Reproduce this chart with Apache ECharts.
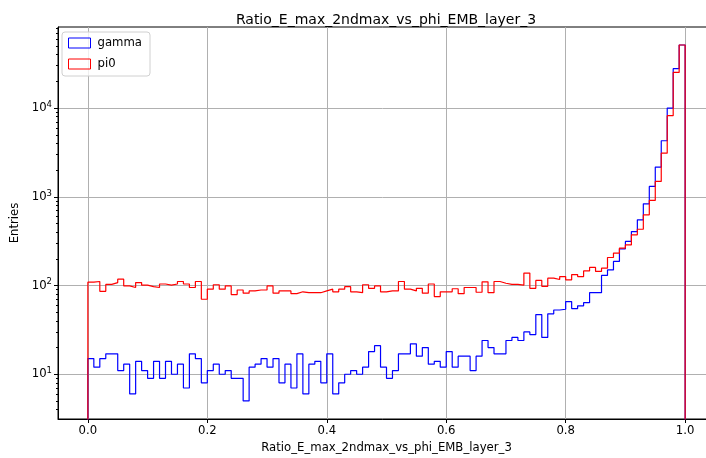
<!DOCTYPE html>
<html>
<head>
<meta charset="utf-8">
<script src="https://cdn.jsdelivr.net/npm/echarts@6/dist/echarts.min.js"></script>
<style>
html,body{margin:0;padding:0;background:#fff;}
#chart{width:706px;height:458px;}
</style>
</head>
<body>
<div id="chart"></div>
<script>
// ---- data ----
var titleText = 'Ratio_E_max_2ndmax_vs_phi_EMB_layer_3';
var xLabel = 'Ratio_E_max_2ndmax_vs_phi_EMB_layer_3';
var yLabel = 'Entries';
var seriesNames = ['gamma', 'pi0'];
var binLow = 0.0;
var binWidth = 0.01;
var gammaCounts = [
  15, 12, 15, 17, 17, 11, 13, 6, 14, 11,
  9, 14, 9, 14, 10, 13, 7, 17, 15, 8,
  11, 13, 10, 11, 9, 9, 5, 12, 13, 15,
  12, 15, 8, 13, 7, 17, 6, 13, 14, 8,
  17, 6, 8, 10, 11, 10, 12, 18, 21, 12,
  9, 11, 17, 17, 22, 16, 20, 13, 14, 12,
  18, 12, 16, 16, 11, 16, 24, 20, 17, 17,
  24, 26, 24, 30, 28, 47, 26, 48, 53, 54,
  66, 55, 59, 64, 83, 83, 130, 150, 187, 259,
  314, 406, 550, 834, 1308, 2163, 4285, 10000, 27800, 51400
];
var pi0Counts = [
  109, 111, 86, 103, 108, 118, 99, 95, 108, 101,
  97, 95, 104, 101, 104, 111, 104, 95, 111, 70,
  91, 102, 91, 99, 79, 89, 82, 87, 89, 89,
  99, 82, 87, 87, 81, 85, 83, 83, 83, 87,
  91, 85, 91, 97, 85, 83, 102, 93, 99, 85,
  87, 87, 111, 91, 87, 93, 82, 104, 75, 85,
  85, 92, 81, 95, 95, 84, 110, 83, 111, 106,
  103, 103, 101, 138, 93, 114, 98, 121, 117, 126,
  116, 133, 126, 146, 160, 144, 157, 207, 232, 264,
  287, 373, 431, 626, 909, 1490, 3105, 8200, 25200, 51400
];
var xTicks = [0.0, 0.2, 0.4, 0.6, 0.8, 1.0];
var yMajorTicks = [10, 100, 1000, 10000];
var yMinorTicks = [4,5,6,7,8,9,20,30,40,50,60,70,80,90,200,300,400,500,600,700,800,900,
  2000,3000,4000,5000,6000,7000,8000,9000,20000,30000,40000,50000,60000,70000,80000];
var xRange = [-0.05, 1.05];
var yRange = [3.13, 82000];

// step outline of a histogram, dropping to the axis floor at both outer edges
function stepData(counts) {
  var floor = 1;
  var d = [[binLow, floor]];
  for (var i = 0; i < counts.length; i++) {
    d.push([+(binLow + i * binWidth).toFixed(4), counts[i]]);
  }
  var hi = +(binLow + counts.length * binWidth).toFixed(4);
  d.push([hi, counts[counts.length - 1]]);
  d.push([hi, floor]);
  return d;
}

var FONT = 'DejaVu Sans';
var FS = 11.7;
var chart = echarts.init(document.getElementById('chart'), null, {renderer: 'canvas'});
var option = {
  animation: false,
  backgroundColor: '#ffffff',
  title: {
    text: titleText,
    left: 381,
    textAlign: 'center',
    top: 8,
    textStyle: {fontFamily: FONT, fontSize: 14, fontWeight: 'normal', color: '#000'}
  },
  legend: {
    orient: 'vertical',
    left: 62,
    top: 32,
    padding: [5, 8, 6, 6],
    itemWidth: 22,
    itemHeight: 10,
    itemGap: 9,
    backgroundColor: 'rgba(255,255,255,0.8)',
    borderColor: '#d0d0d0',
    borderWidth: 1,
    borderRadius: 3,
    textStyle: {fontFamily: FONT, fontSize: FS, color: '#000', padding: [0, 0, 0, 2]},
    data: [
      {name: seriesNames[0], icon: 'rect', itemStyle: {color: 'rgba(0,0,0,0)', borderColor: '#0000ff', borderWidth: 1}, lineStyle: {width: 0, opacity: 0}},
      {name: seriesNames[1], icon: 'rect', itemStyle: {color: 'rgba(0,0,0,0)', borderColor: '#ff0000', borderWidth: 1}, lineStyle: {width: 0, opacity: 0}}
    ]
  },
  grid: {
    left: 58, width: 657, top: 27, height: 392,
    outerBoundsMode: 'none',
    containLabel: false,
    show: true, borderColor: '#000', borderWidth: 1, backgroundColor: 'transparent'
  },
  xAxis: {
    type: 'value',
    min: xRange[0], max: xRange[1],
    name: xLabel,
    nameLocation: 'middle',
    nameGap: 22,
    nameTextStyle: {fontFamily: FONT, fontSize: FS, color: '#000'},
    axisLine: {show: true, onZero: false, lineStyle: {color: '#000', width: 1}},
    axisTick: {show: true, length: 4, customValues: xTicks, lineStyle: {color: '#000'}},
    axisLabel: {
      customValues: xTicks, margin: 6,
      fontFamily: FONT, fontSize: FS, color: '#000',
      formatter: function (v) { return v.toFixed(1); }
    },
    splitLine: {show: true, lineStyle: {color: '#b0b0b0', width: 1}}
  },
  yAxis: [{
    type: 'log',
    logBase: 10,
    min: yRange[0], max: yRange[1],
    name: yLabel,
    nameLocation: 'middle',
    nameGap: 32,
    nameRotate: 90,
    nameTextStyle: {fontFamily: FONT, fontSize: FS, color: '#000'},
    axisLine: {show: true, onZero: false, lineStyle: {color: '#000', width: 1}},
    axisTick: {show: true, length: 4, customValues: yMajorTicks, lineStyle: {color: '#000'}},
    axisLabel: {
      customValues: yMajorTicks, margin: 6,
      fontFamily: FONT, fontSize: FS, color: '#000',
      formatter: function (v) {
        var e = Math.round(Math.log10(v));
        return '{b|10}{s|' + e + '}';
      },
      rich: {
        b: {fontFamily: FONT, fontSize: FS, color: '#000'},
        s: {fontFamily: FONT, fontSize: 8.5, color: '#000', padding: [0, 0, 7, 0]}
      }
    },
    splitLine: {show: true, lineStyle: {color: '#b0b0b0', width: 1}}
  }, {
    type: 'log',
    logBase: 10,
    min: yRange[0], max: yRange[1],
    position: 'left',
    axisLine: {show: false, onZero: false},
    axisTick: {show: true, length: 2, customValues: yMinorTicks, lineStyle: {color: '#000'}},
    axisLabel: {show: false},
    splitLine: {show: false}
  }],
  series: [{
    name: seriesNames[0],
    type: 'line',
    step: 'end',
    data: stepData(gammaCounts),
    showSymbol: false,
    symbol: 'none',
    clip: true,
    lineStyle: {color: '#0000ff', width: 1.2},
    itemStyle: {color: '#0000ff'},
    z: 3
  }, {
    name: seriesNames[1],
    type: 'line',
    step: 'end',
    data: stepData(pi0Counts),
    showSymbol: false,
    symbol: 'none',
    clip: true,
    lineStyle: {color: '#ff0000', width: 1.2},
    itemStyle: {color: '#ff0000'},
    z: 4
  }]
};
chart.setOption(option);
</script>
</body>
</html>
